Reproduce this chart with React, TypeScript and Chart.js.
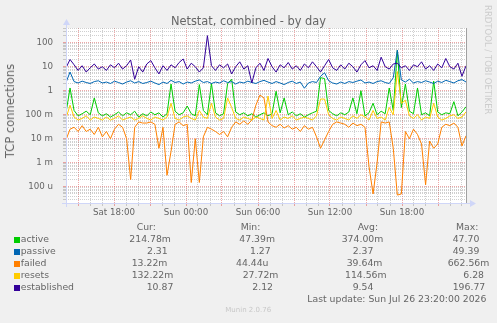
import React, { useEffect, useRef } from "react";
import { Chart, registerables } from "chart.js";

Chart.register(...registerables);

const FONT = '"DejaVu Sans", "Liberation Sans", sans-serif';
const TEXT = "#666666";

// time axis: Sat 14:00 -> Sun 23:20
const startHour = 14;
const spanHours = 100 / 3;
const xLabelHours = [4, 10, 16, 22, 28];
const xLabels = ["Sat 18:00", "Sun 00:00", "Sun 06:00", "Sun 12:00", "Sun 18:00"];

const yLabelValues = [100, 10, 1, 0.1, 0.01, 0.001, 0.0001];
const yLabels = ["100", "10", "1", "100 m", "10 m", "1 m", "100 u"];
const yMin = 2.1e-5;
const yMax = 410;

const seriesNames = ["active", "passive", "failed", "resets", "established"];
const seriesColors = ["#00CC00", "#0066B3", "#FF8000", "#FFCC00", "#330099"];

const active = [
  0.12, 1.3, 0.15, 0.09, 0.11, 0.14, 0.1, 0.5, 0.12, 0.09,
  0.11, 0.08, 0.1, 0.13, 0.09, 0.12, 0.1, 0.14, 0.08, 0.11,
  0.09, 0.13, 0.1, 0.12, 0.08, 0.11, 1.9, 0.14, 0.1, 0.12,
  0.23, 0.11, 0.09, 1.8, 0.15, 0.1, 2.0, 0.12, 0.09, 0.11,
  2.0, 3.0, 0.13, 0.1, 0.12, 0.09, 0.11, 0.08, 0.1, 0.12,
  0.09, 0.11, 0.95, 0.12, 0.5, 0.1, 0.13, 0.09, 0.11, 0.08,
  0.1, 0.12, 0.14, 3.5, 3.2, 0.15, 0.11, 0.09, 0.12, 0.1,
  0.13, 0.5, 0.11, 1.0, 0.09, 0.12, 0.3, 0.1, 0.14, 0.11,
  1.3, 0.15, 47.7, 0.2, 1.9, 0.14, 0.11, 1.3, 0.1, 0.12,
  0.09, 2.5, 0.13, 0.1, 0.12, 0.11, 0.35, 0.09, 0.13, 0.2148,
];

const passive = [
  2.2, 6.0, 2.4, 2.1, 2.5, 2.2, 2.0, 2.4, 2.6, 2.1,
  2.3, 2.0, 2.5, 2.2, 1.9, 2.3, 2.6, 2.1, 2.4, 2.0,
  2.2, 2.5, 2.1, 1.8, 2.3, 2.0, 2.7, 2.2, 2.4, 1.9,
  2.3, 2.1, 2.5, 2.8, 2.2, 2.4, 2.0, 2.3, 2.1, 2.6,
  2.2, 2.4, 1.9, 2.3, 2.1, 2.5, 2.2, 2.0, 2.4, 2.7,
  2.3, 2.0, 2.4, 2.1, 1.8, 2.2, 2.5, 2.0, 2.3, 1.27,
  2.1, 2.4, 2.2, 4.0, 5.6, 2.6, 2.1, 1.9, 2.3, 2.0,
  2.4, 2.2, 2.5, 2.8, 2.1, 2.3, 2.0, 2.4, 2.6, 2.2,
  2.0, 3.5, 49.39, 2.8, 2.3, 3.0, 2.1, 2.4, 2.2, 2.6,
  2.3, 2.0, 2.5, 2.2, 2.7, 2.4, 2.1, 2.6, 2.9, 2.31,
];

const failed = [
  0.009, 0.025, 0.03, 0.02, 0.035, 0.02, 0.025, 0.015, 0.03, 0.012,
  0.02, 0.01, 0.025, 0.04, 0.03, 0.01, 0.0002, 0.03, 0.05, 0.045,
  0.045, 0.05, 0.04, 0.004, 0.03, 0.0003, 0.003, 0.04, 0.05, 0.035,
  0.04, 0.00015, 0.01, 0.00015, 0.012, 0.03, 0.025, 0.02, 0.015, 0.02,
  0.012, 0.03, 0.05, 0.04, 0.055, 0.04, 0.06, 0.25, 0.66, 0.5,
  0.05, 0.035, 0.03, 0.04, 0.028, 0.035, 0.025, 0.03, 0.02, 0.035,
  0.025, 0.03, 0.012, 0.004, 0.009, 0.02, 0.04, 0.05, 0.045, 0.04,
  0.03, 0.045, 0.035, 0.04, 0.03, 0.0007, 0.00005, 0.001, 0.05, 0.045,
  0.05, 0.004, 0.000045, 0.00005, 0.02, 0.01, 0.025, 0.015, 0.006, 0.00012,
  0.008, 0.004, 0.006, 0.03, 0.04, 0.035, 0.045, 0.03, 0.005, 0.01322,
];

const resets = [
  0.07, 0.25, 0.08, 0.06, 0.07, 0.09, 0.06, 0.08, 0.07, 0.06,
  0.08, 0.06, 0.07, 0.09, 0.06, 0.07, 0.08, 0.06, 0.07, 0.09,
  0.07, 0.06, 0.08, 0.07, 0.06, 0.08, 0.3, 0.07, 0.06, 0.08,
  0.09, 0.07, 0.06, 0.15, 0.08, 0.07, 0.3, 0.08, 0.06, 0.07,
  0.5, 0.2, 0.07, 0.06, 0.08, 0.07, 0.06, 0.08, 0.07, 0.06,
  0.6, 0.07, 0.15, 0.06, 0.08, 0.07, 0.09, 0.06, 0.07, 0.08,
  0.07, 0.06, 0.09, 0.45, 0.45, 0.1, 0.07, 0.06, 0.08, 0.07,
  0.06, 0.09, 0.07, 0.1, 0.08, 0.06, 0.15, 0.07, 0.08, 0.06,
  0.2, 0.1, 6.28, 0.3, 0.4, 0.09, 0.07, 0.1, 0.06, 0.08,
  0.07, 0.3, 0.08, 0.06, 0.07, 0.09, 0.1, 0.07, 0.08, 0.13222,
];

const established = [
  9, 20, 12, 7, 11, 6, 9, 13, 8, 10,
  7, 12, 9, 14, 8, 11, 19, 3, 10, 6,
  13, 18, 9, 5, 11, 7, 12, 9, 15, 21,
  8, 14, 10, 6, 9, 196.77, 11, 7, 12, 9,
  13, 5, 10, 16, 8, 11, 2.12, 9, 14, 7,
  22, 10, 6, 12, 9, 15, 8, 11, 7, 13,
  9, 16, 10, 6, 11, 20, 9, 7, 12, 8,
  14, 10, 6, 12, 18, 9, 11, 7, 25, 10,
  8, 13, 14, 9, 11, 7, 12, 10, 16, 8,
  11, 7, 13, 9, 22, 10, 8, 14, 4, 10.87,
];

const seriesValues = [active, passive, failed, resets, established];

const curText = ["214.78m", "2.31", "13.22m", "132.22m", "10.87"];
const minText = ["47.39m", "1.27", "44.44u", "27.72m", "2.12"];
const avgText = ["374.00m", "2.37", "39.64m", "114.56m", "9.54"];
const maxText = ["47.70", "49.39", "662.56m", "6.28", "196.77"];
const headers = ["Cur:", "Min:", "Avg:", "Max:"];
const lastUpdate = "Last update: Sun Jul 26 23:20:00 2026";
const version = "Munin 2.0.76";
const chartTitle = "Netstat, combined - by day";
const yTitle = "TCP connections";
const watermark = "RRDTOOL / TOBI OETIKER";

// layout (pixels) for the legend table
const headerX = [136.7, 240.7, 357.7, 456];
const cellX = [
  [129.3, 239.3, 341.7, 452.7],
  [147, 250, 352.7, 452.7],
  [131.7, 236, 346.7, 447.7],
  [131.7, 242.7, 345, 463.3],
  [146.7, 252.3, 352.7, 452.7],
];
const rowY = [239, 251.3, 263.3, 275, 287];

const GRID = "rgba(140,140,140,0.42)";
const MGRID = "rgba(222,79,79,0.5)";
const AXIS = "#CFD6F8";

const isDecade = (v: number) => {
  const l = Math.log10(v);
  return Math.abs(l - Math.round(l)) < 1e-6;
};

const framePlugin = {
  id: "muninFrame",
  beforeDraw(chart: any) {
    const { ctx, chartArea: a } = chart;
    ctx.save();
    ctx.fillStyle = "#FFFFFF";
    ctx.fillRect(a.left, a.top, a.right - a.left, a.bottom - a.top);
    ctx.restore();
  },
  afterDraw(chart: any) {
    const { ctx, chartArea: a } = chart;
    ctx.save();
    ctx.lineWidth = 1;
    ctx.strokeStyle = "#A0A0A0";
    ctx.beginPath();
    ctx.moveTo(a.right + 0.5, a.top);
    ctx.lineTo(a.right + 0.5, a.bottom + 1);
    ctx.stroke();
    ctx.strokeStyle = AXIS;
    ctx.fillStyle = AXIS;
    ctx.beginPath();
    ctx.moveTo(a.left - 4, a.bottom + 0.5);
    ctx.lineTo(a.right + 5, a.bottom + 0.5);
    ctx.moveTo(a.left + 0.5, a.bottom + 4);
    ctx.lineTo(a.left + 0.5, a.top - 3);
    ctx.stroke();
    ctx.beginPath();
    ctx.moveTo(a.right + 4, a.bottom - 3);
    ctx.lineTo(a.right + 10, a.bottom + 0.5);
    ctx.lineTo(a.right + 4, a.bottom + 4);
    ctx.closePath();
    ctx.fill();
    ctx.beginPath();
    ctx.moveTo(a.left - 3, a.top - 3);
    ctx.lineTo(a.left + 0.5, a.top - 9);
    ctx.lineTo(a.left + 4, a.top - 3);
    ctx.closePath();
    ctx.fill();
    ctx.restore();
  },
};

const textStyle = (size: number, color = TEXT): React.CSSProperties => ({
  position: "absolute",
  fontFamily: FONT,
  fontSize: size,
  color,
  whiteSpace: "nowrap",
  lineHeight: "12px",
});

export default function App() {
  const canvasRef = useRef<HTMLCanvasElement | null>(null);

  useEffect(() => {
    const canvas = canvasRef.current;
    if (!canvas) return;
    const n = active.length;
    const hours = active.map((_, i) => (i * spanHours) / (n - 1));
    const order = [4, 3, 2, 1, 0];
    const chart = new Chart(canvas, {
      type: "line",
      data: {
        datasets: seriesValues.map((vals, s) => ({
          label: seriesNames[s],
          data: vals.map((v, i) => ({ x: hours[i], y: v })),
          borderColor: seriesColors[s],
          backgroundColor: seriesColors[s],
          borderWidth: 1,
          pointRadius: 0,
          tension: 0,
          fill: false,
          order: order[s],
        })),
      },
      options: {
        animation: false,
        responsive: false,
        devicePixelRatio: 1,
        layout: { padding: { left: 0, right: 31, top: 28, bottom: 100 } },
        plugins: {
          legend: { display: false },
          tooltip: { enabled: false },
          title: { display: false },
        },
        scales: {
          x: {
            type: "linear",
            min: 0,
            max: spanHours,
            afterBuildTicks: (scale: any) => {
              const t = [];
              for (let h = 1; h < spanHours; h++) t.push({ value: h });
              scale.ticks = t;
            },
            afterFit: (scale: any) => {
              scale.height = 20;
            },
            ticks: {
              autoSkip: false,
              maxRotation: 0,
              padding: 2,
              color: TEXT,
              font: { family: FONT, size: 8.7 },
              callback: (v: any) => {
                const k = xLabelHours.indexOf(Math.round(Number(v)));
                return k >= 0 ? xLabels[k] : "";
              },
            },
            grid: {
              color: (c: any) =>
                c.tick && (startHour + Math.round(c.tick.value)) % 3 === 0 ? MGRID : GRID,
              lineWidth: 1,
              tickLength: 3,
            },
            border: { display: false, dash: [1, 1] },
          },
          y: {
            type: "logarithmic",
            min: yMin,
            max: yMax,
            afterBuildTicks: (scale: any) => {
              const t = [];
              for (let k = -5; k <= 2; k++) {
                for (let m = 1; m <= 9; m++) {
                  const v = Number((m * Math.pow(10, k)).toPrecision(6));
                  if (v > yMin && v < yMax) t.push({ value: v });
                }
              }
              scale.ticks = t;
            },
            afterFit: (scale: any) => {
              scale.width = 66;
            },
            ticks: {
              autoSkip: false,
              padding: 10,
              color: TEXT,
              font: { family: FONT, size: 8.7 },
              callback: (v: any) => {
                const k = yLabelValues.findIndex((x) => Math.abs(x - Number(v)) / x < 1e-6);
                return k >= 0 ? yLabels[k] : "";
              },
            },
            grid: {
              color: (c: any) => (c.tick && isDecade(c.tick.value) ? MGRID : GRID),
              lineWidth: 1,
              tickLength: 3,
            },
            border: { display: false, dash: [1, 1] },
          },
        },
      },
      plugins: [framePlugin],
    } as any);
    return () => chart.destroy();
  }, []);

  return (
    <div
      style={{
        position: "fixed",
        left: 0,
        top: 0,
        width: 497,
        height: 323,
        background: "#F0F0F0",
        overflow: "hidden",
      }}
    >
      <canvas
        ref={canvasRef}
        width={497}
        height={323}
        style={{ position: "absolute", left: 0, top: 0, width: 497, height: 323 }}
      />
      <div style={{ ...textStyle(11.4), left: 0, width: 497, top: 14.5, textAlign: "center" }}>
        {chartTitle}
      </div>
      <div
        style={{
          ...textStyle(11.5),
          left: 10,
          top: 111,
          transform: "translate(-50%, -50%) rotate(-90deg)",
        }}
      >
        {yTitle}
      </div>
      <div
        style={{
          ...textStyle(8.5, "#CCCCCC"),
          left: 482,
          top: 5,
          writingMode: "vertical-rl",
        }}
      >
        {watermark}
      </div>
      {headers.map((h, c) => (
        <div key={h} style={{ ...textStyle(9.3), left: headerX[c], top: 226.7 - 6 }}>
          {h}
        </div>
      ))}
      {seriesNames.map((name, r) => (
        <React.Fragment key={name}>
          <div
            style={{
              position: "absolute",
              left: 14,
              top: rowY[r] - 2.5,
              width: 6,
              height: 6,
              background: seriesColors[r],
            }}
          />
          <div style={{ ...textStyle(9.3), left: 20.7, top: rowY[r] - 6 }}>{name}</div>
          {[curText, minText, avgText, maxText].map((col, c) => (
            <div key={c} style={{ ...textStyle(9.3), left: cellX[r][c], top: rowY[r] - 6 }}>
              {col[r]}
            </div>
          ))}
        </React.Fragment>
      ))}
      <div style={{ ...textStyle(9.3), left: 307.3, top: 299.3 - 6 }}>{lastUpdate}</div>
      <div style={{ ...textStyle(7, "#C8C8C8"), left: 225.3, top: 310.3 - 6 }}>{version}</div>
    </div>
  );
}
